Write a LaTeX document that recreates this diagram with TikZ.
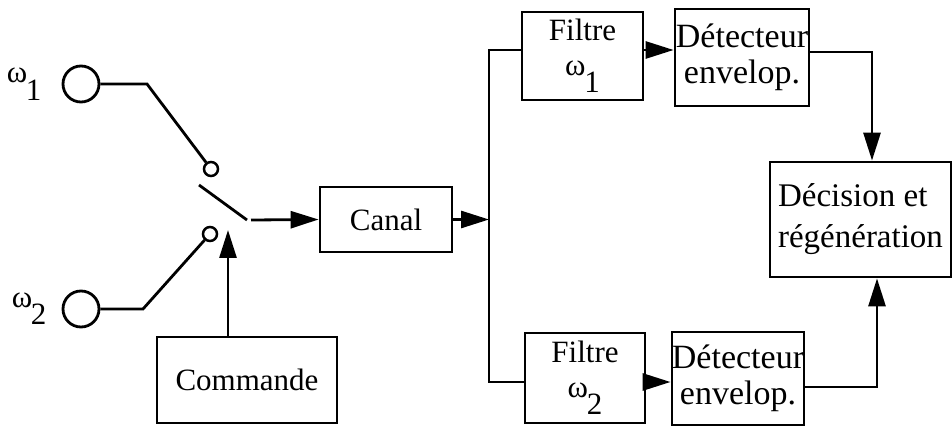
\documentclass[tikz,border=0pt]{standalone}
\usepackage{fontspec}
\setmainfont{Liberation Serif}
\usetikzlibrary{arrows.meta, positioning, calc}
\newcommand{\omsub}[1]{ω\kern-0.04em\raisebox{-0.55em}{#1}}

\begin{document}
\begin{tikzpicture}[
    x=1pt, y=-1pt,
    >={Triangle[length=28pt, width=17pt]},
    every node/.style={font=\fontsize{31}{35}\selectfont},
    blk/.style={draw, line width=2.8pt, inner sep=0pt, align=center},
    wire/.style={line width=2.8pt},
    src/.style={draw, circle, line width=2.8pt, minimum size=36pt, inner sep=0pt},
    contact/.style={draw, circle, line width=2.5pt, minimum size=14pt, inner sep=0pt}
]
\useasboundingbox (0,0) rectangle (952,427);

% =============================================
% Sources and switch
% =============================================

% Frequency sources
\node[src] (srcA) at (81,84) {};
\node[src] (srcB) at (81,309) {};
\node[anchor=base east] (labA) at (45,83) {\omsub{1}};
\node[anchor=base east] (labB) at (50,307) {\omsub{2}};

% Switch contacts
\node[contact] (ctA) at (211,169) {};
\node[contact] (ctB) at (210,234) {};
\coordinate (kneeA) at (147,84);
\coordinate (kneeB) at (143,309);
\draw[wire] (srcA.east) -- (kneeA) -- (ctA);
\draw[wire] (srcB.east) -- (kneeB) -- (ctB);

% Switch blade
\coordinate (bladeA) at (199,185);
\coordinate (bladeB) at (247,220);
\draw[wire] (bladeA) -- (bladeB);

% Command block
\node[blk, minimum width=180pt, minimum height=86pt] (cmd) at (247,380) {Commande};
\coordinate (cmdtip) at (228,230);
\draw[wire, ->] (cmdtip |- cmd.north) -- (cmdtip);

% =============================================
% Channel and split
% =============================================

\node[blk, minimum width=132pt, minimum height=65pt] (canal) at (386,219.5) {Canal};
\draw[wire, ->] ([xshift=4pt]bladeB) -- (canal.west);

\coordinate (split) at (489,219.5);
\draw[wire, ->] (canal.east) -- (split);

% =============================================
% Filters and envelope detectors
% =============================================

\node[blk, minimum width=121pt, minimum height=88pt] (filtA) at (582.5,56) {Filtre\\\omsub{1}};
\node[blk, minimum width=120pt, minimum height=90pt] (filtB) at (585,378) {Filtre\\\omsub{2}};
\coordinate (inA) at ($(filtA.west)+(0,-6)$);
\coordinate (inB) at ($(filtB.west)+(0,4)$);
\draw[wire] (inA) -- (inA -| split) -- (inB -| split) -- (inB);

\node[blk, minimum width=134pt, minimum height=97pt, font=\fontsize{34}{36}\selectfont] (detA) at (742,57.5) {Détecteur\\envelop.};
\node[blk, minimum width=130pt, minimum height=93pt, font=\fontsize{34}{36}\selectfont] (detB) at (738,378.5) {Détecteur\\envelop.};
\draw[wire, ->] (inA -| filtA.east) -- (inA -| detA.west);
\draw[wire, ->] (inB -| filtB.east) -- (inB -| detB.west);

% =============================================
% Decision
% =============================================

\node[blk, minimum width=181pt, minimum height=115pt, align=left, font=\fontsize{33}{36}\selectfont] (dec) at (860.5,219.5)
    {Décision et\\[5pt]régénération};

\coordinate (outA) at ($(detA.east)+(0,-5.5)$);
\coordinate (outB) at ($(detB.east)+(0,8.5)$);
\coordinate (dropA) at (872,0);
\coordinate (riseB) at (877,0);
\draw[wire, ->] (outA) -- (outA -| dropA) -- (dropA |- dec.north);
\draw[wire, ->] (outB) -- (outB -| riseB) -- (riseB |- dec.south);

\end{tikzpicture}
\end{document}
